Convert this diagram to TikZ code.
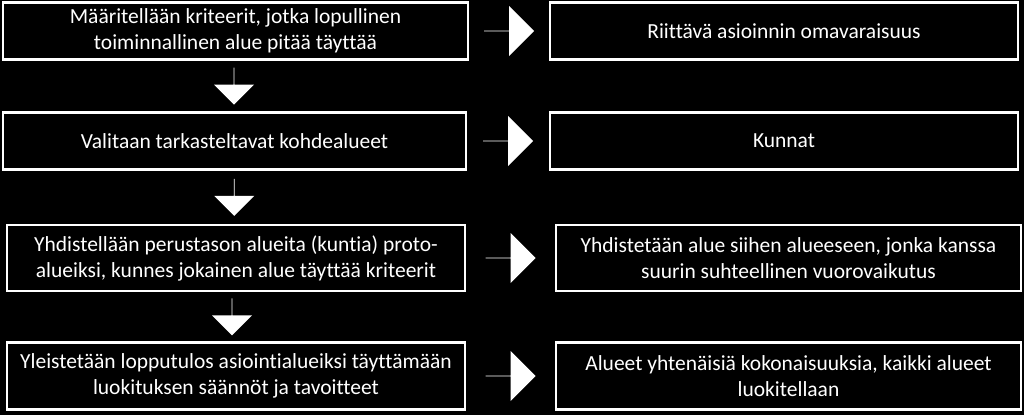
\documentclass[tikz,border=0pt]{standalone}
\usepackage{fontspec}
\setmainfont{Carlito}[Ligatures=NoCommon]
\usetikzlibrary{shapes.arrows,calc}

\tikzset{
	stepbox/.style={draw=white, line width=2.2pt, fill=black, text=white, align=center,
		font=\fontsize{21.5}{26}\selectfont, inner sep=0pt},
	rarrow/.style={single arrow, fill=white, draw=none, minimum height=50pt,
		minimum width=50pt, single arrow head extend=11.5pt, inner sep=0pt,
		single arrow tip angle=90},
	darrow/.style={rarrow, shape border rotate=270, minimum height=37pt,
		minimum width=40pt, single arrow head extend=9.5pt},
}

\begin{document}
\begin{tikzpicture}[x=1pt,y=-1pt]

\fill[black] (0,0) rectangle (1024,415);
\useasboundingbox (0,0) rectangle (1024,415);

% left column
\node[stepbox, minimum width=465pt, minimum height=57pt] (l1) at (235.5,31)
	{Määritellään kriteerit, jotka lopullinen\\toiminnallinen alue pitää täyttää};
\node[stepbox, minimum width=463pt, minimum height=57pt] (l2) at (234.5,141)
	{Valitaan tarkasteltavat kohdealueet};
\node[stepbox, minimum width=458pt, minimum height=66pt] (l3) at (236,258)
	{Yhdistellään perustason alueita (kuntia) proto-\\alueiksi, kunnes jokainen alue täyttää kriteerit};
\node[stepbox, minimum width=458pt, minimum height=67pt] (l4) at (236,376)
	{Yleistetään lopputulos asiointialueiksi täyttämään\\luokituksen säännöt ja tavoitteet};

% right column
\node[stepbox, minimum width=468pt, minimum height=57pt] (r1) at (784,31)
	{Riittävä asioinnin omavaraisuus};
\node[stepbox, minimum width=468pt, minimum height=57pt] (r2) at (784,141)
	{Kunnat};
\node[stepbox, minimum width=465pt, minimum height=66pt] (r3) at (788.5,258)
	{Yhdistetään alue siihen alueeseen, jonka kanssa\\suurin suhteellinen vuorovaikutus};
\node[stepbox, minimum width=465pt, minimum height=67pt] (r4) at (788.5,376)
	{Alueet yhtenäisiä kokonaisuuksia, kaikki alueet\\luokitellaan};

% arrows
\foreach \i in {1,...,4}{
	\node[rarrow] at ($(l\i.east)!0.5!(r\i.west)$) {};
}
\node[darrow] at ($(l1.south)!0.5!(l2.north)+(-1,0)$) {};
\node[darrow] at ($(l2.south)!0.5!(l3.north)+(-1,0)$) {};
\node[darrow] at ($(l3.south)!0.5!(l4.north)+(-4,0)$) {};

\end{tikzpicture}
\end{document}
